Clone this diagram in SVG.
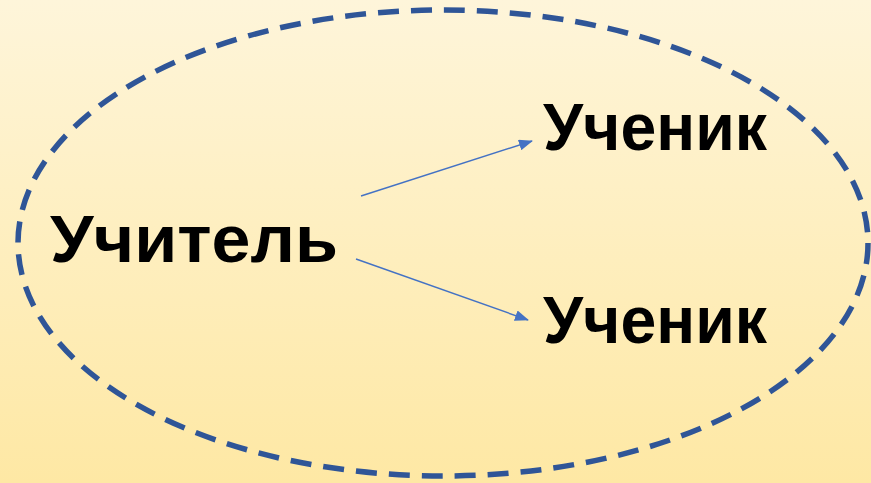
<svg xmlns="http://www.w3.org/2000/svg" width="871" height="483" viewBox="0 0 871 483">
  <defs>
    <linearGradient id="bg" x1="0" y1="0" x2="0" y2="1">
      <stop offset="0" stop-color="#FEF5DA"/>
      <stop offset="1" stop-color="#FEE8A4"/>
    </linearGradient>
    <marker id="arr" markerWidth="14" markerHeight="11" refX="13" refY="5.5" orient="auto" markerUnits="userSpaceOnUse" viewBox="0 0 14 11">
      <path d="M0,0 L14,5.5 L0,11 Z" fill="#4472C4"/>
    </marker>
    <style>
      .lbl { font-family: "Liberation Sans", "DejaVu Sans", sans-serif; font-weight: bold; font-size: 66px; fill: #000; }
      .conn { stroke: #4472C4; stroke-width: 1.4; fill: none; marker-end: url(#arr); }
    </style>
  </defs>
  <rect x="0" y="0" width="871" height="483" fill="url(#bg)"/>
  <g id="boundary">
    <ellipse cx="443" cy="243" rx="425" ry="233" fill="none" stroke="#2F5597" stroke-width="5.5" stroke-dasharray="21,12"/>
  </g>
  <g id="connectors">
    <line class="conn" x1="361" y1="196" x2="532" y2="141"/>
    <line class="conn" x1="356" y1="259" x2="528" y2="320"/>
  </g>
  <g id="teacher">
    <text class="lbl" x="50" y="262" textLength="288" lengthAdjust="spacingAndGlyphs">Учитель</text>
  </g>
  <g id="student1">
    <text class="lbl" x="543" y="150" textLength="224" lengthAdjust="spacingAndGlyphs">Ученик</text>
  </g>
  <g id="student2">
    <text class="lbl" x="543" y="343" textLength="224" lengthAdjust="spacingAndGlyphs">Ученик</text>
  </g>
</svg>
